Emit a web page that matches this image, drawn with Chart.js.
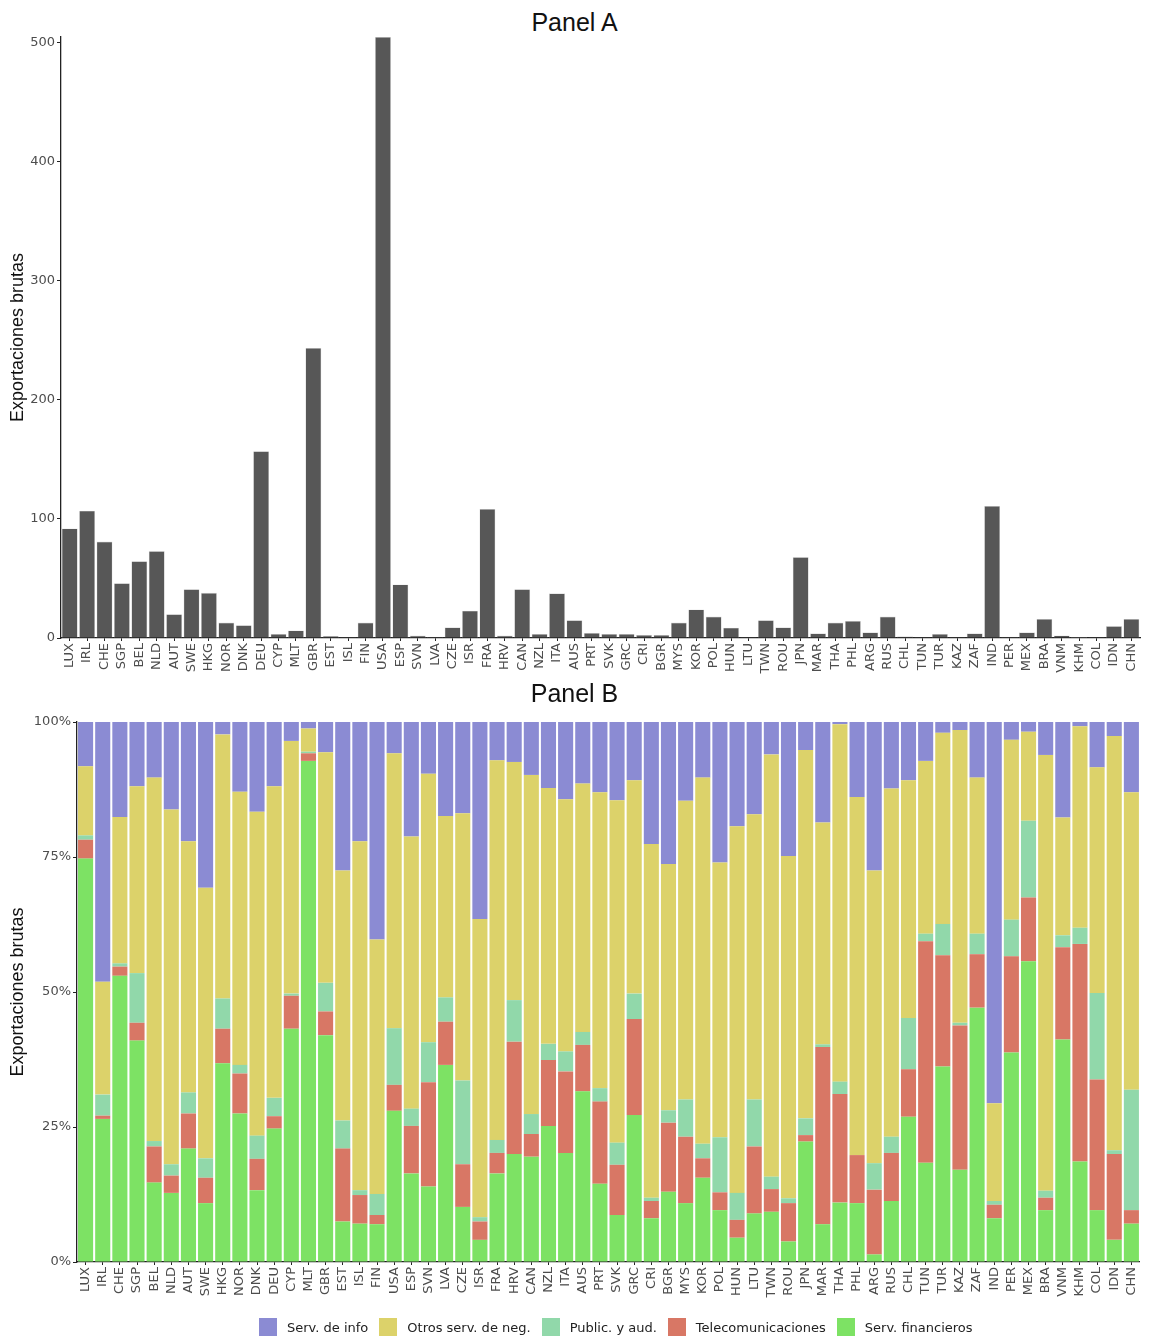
<!DOCTYPE html>
<html>
<head>
<meta charset="utf-8">
<script src="https://cdn.jsdelivr.net/npm/chart.js@4.4.0/dist/chart.umd.min.js"></script>
<style>
  body { margin: 0; background: #fff; }
  #wrap { position: relative; width: 1149px; height: 1338px; }
  .box { position: absolute; left: 0; width: 1149px; }
  .ttl { position: absolute; width: 1149px; text-align: center; font-family: "Liberation Sans", Arial, sans-serif; font-size: 25px; color: #111; }
  #legend { position: absolute; top: 1318px; left: 259px; display: flex; align-items: center; font-family: "DejaVu Sans", sans-serif; font-size: 13px; color: #222; white-space: nowrap; }
  #legend .item { display: flex; align-items: center; margin-right: 11px; }
  #legend .sw { width: 18px; height: 18px; margin-right: 10px; }
</style>
</head>
<body>
<div id="wrap">
  <div class="ttl" style="top:8px">Panel A</div>
  <div class="box" style="top:0;height:680px"><canvas id="chartA" width="1149" height="680"></canvas></div>
  <div class="ttl" style="top:679px">Panel B</div>
  <div class="box" style="top:680px;height:658px"><canvas id="chartB" width="1149" height="658"></canvas></div>
  <div id="legend"></div>
</div>
<script>
const countries = ['LUX','IRL','CHE','SGP','BEL','NLD','AUT','SWE','HKG','NOR','DNK','DEU','CYP','MLT','GBR','EST','ISL','FIN','USA','ESP','SVN','LVA','CZE','ISR','FRA','HRV','CAN','NZL','ITA','AUS','PRT','SVK','GRC','CRI','BGR','MYS','KOR','POL','HUN','LTU','TWN','ROU','JPN','MAR','THA','PHL','ARG','RUS','CHL','TUN','TUR','KAZ','ZAF','IND','PER','MEX','BRA','VNM','KHM','COL','IDN','CHN'];

// Panel A: gross exports
const grossExports = [92,107,81,46,64.5,73,20,41,38,13,10.7,157,3.4,6.4,243.7,1.7,0.6,13,505,45,2,1.1,9,23,108.4,2,41,3.4,37.5,15,4.2,3.4,3.4,2.5,2.5,13,24,18,8.7,0.6,15,9,68,3.9,13,14.3,4.8,18,1.4,0.6,3.4,0.6,3.9,111,1.1,4.8,16,2.2,0.1,0.6,10,16];
const exportTicks = [0,100,200,300,400,500];

// Panel B: shares by service type (%)
const financieros = [74.7,26.5,53.0,41.0,14.7,12.8,21.0,10.9,36.8,27.5,13.3,24.7,43.2,92.8,42.0,7.5,7.1,7.0,28.0,16.4,14.0,36.5,10.2,4.1,16.4,20.0,19.5,25.2,20.2,31.6,14.5,8.7,27.2,8.1,13.0,10.9,15.6,9.6,4.5,9.0,9.3,3.8,22.3,7.0,11.0,10.9,1.4,11.3,26.9,18.4,36.2,17.1,47.1,8.1,38.8,55.7,9.6,41.2,18.6,9.6,4.1,7.1];
const telecom = [3.5,0.6,1.7,3.3,6.7,3.2,6.5,4.7,6.4,7.4,5.8,2.3,6.1,1.4,4.4,13.5,5.3,1.7,4.8,8.8,19.3,8.0,7.9,3.4,3.8,20.8,4.2,12.2,15.1,8.6,15.2,9.3,17.8,3.2,12.8,12.3,3.6,3.3,3.3,12.4,4.2,7.1,1.2,32.8,20.1,8.9,12.0,8.9,8.8,41.0,20.6,26.7,9.9,2.5,17.8,11.8,2.3,17.1,40.3,24.2,15.9,2.5];
const publicidad = [0.8,3.9,0.6,9.2,1.0,2.1,3.9,3.6,5.6,1.6,4.3,3.4,0.4,0.3,5.3,5.2,0.9,3.9,10.5,3.2,7.4,4.5,15.5,0.8,2.4,7.7,3.7,3.0,3.7,2.4,2.5,4.1,4.7,0.6,2.3,6.9,2.7,10.2,5.0,8.7,2.3,0.9,3.1,0.5,2.3,0,4.9,3.0,9.5,1.4,5.8,0.5,3.8,0.7,6.8,14.2,1.3,2.2,3.0,16.0,0.7,22.3];
const otrosNeg = [12.8,20.9,27.1,34.6,67.3,65.7,46.5,50.1,48.9,50.6,60.0,57.7,46.8,4.3,42.7,46.3,64.6,47.1,50.9,50.4,49.7,33.6,49.5,55.2,70.3,44.1,62.8,47.4,46.7,46.0,54.8,63.4,39.5,65.5,45.6,55.3,67.8,50.9,67.9,52.8,78.2,63.4,68.2,41.1,66.2,66.3,54.2,64.5,44.0,32.0,35.4,54.2,28.9,18.1,33.3,16.5,80.7,21.8,37.3,41.8,76.7,55.1];
const servInfo = [8.2,48.1,17.6,11.9,10.3,16.2,22.1,30.7,2.3,12.9,16.6,11.9,3.5,1.2,5.6,27.5,22.1,40.3,5.8,21.2,9.6,17.4,16.9,36.5,7.1,7.4,9.8,12.2,14.3,11.4,13.0,14.5,10.8,22.6,26.3,14.6,10.3,26.0,19.3,17.1,6.0,24.8,5.2,18.6,0.4,13.9,27.5,12.3,10.8,7.2,2.0,1.5,10.3,70.6,3.3,1.8,6.1,17.7,0.8,8.4,2.6,13.0];
const shareTicks = [0,25,50,75,100];

const tickFont = { family: 'DejaVu Sans', size: 13 };
const axisColor = '#222';
const labelColor = '#4d4d4d';

function axisTitle(text) {
  return { display: true, text: text, color: '#111', font: { family: 'Liberation Sans', size: 18 }, padding: { top: 7, bottom: 0 } };
}

function xAxis(height) {
  return {
    type: 'category',
    offset: true,
    afterFit: s => { s.height = height; },
    grid: { display: true, drawOnChartArea: false, drawTicks: true, tickLength: 3, color: axisColor, offset: false },
    border: { display: true, color: axisColor, width: 1.3 },
    ticks: { color: labelColor, font: tickFont, maxRotation: 90, minRotation: 90, autoSkip: false, padding: 2 }
  };
}

new Chart(document.getElementById('chartA'), {
  type: 'bar',
  data: {
    labels: countries,
    datasets: [{
      label: 'Exportaciones brutas',
      data: grossExports,
      backgroundColor: '#575757',
      borderColor: '#dcdcdc',
      borderWidth: 0.6,
      barPercentage: 0.92,
      categoryPercentage: 1.0
    }]
  },
  options: {
    responsive: false,
    animation: false,
    layout: { padding: { top: 37, right: 2, left: 0, bottom: 0 } },
    plugins: { legend: { display: false }, tooltip: { enabled: false } },
    scales: {
      x: xAxis(42),
      y: {
        min: 0, max: 505,
        afterFit: s => { s.width = 61; },
        afterBuildTicks: s => { s.ticks = exportTicks.map(v => ({ value: v })); },
        title: axisTitle('Exportaciones brutas'),
        grid: { display: true, drawOnChartArea: false, drawTicks: true, tickLength: 4, color: axisColor },
        border: { display: true, color: axisColor, width: 1.3 },
        ticks: { color: labelColor, font: tickFont, padding: 2 }
      }
    }
  }
});

const seriesB = [
  { label: 'Serv. financieros', data: financieros, color: '#7de264' },
  { label: 'Telecomunicaciones', data: telecom, color: '#d87765' },
  { label: 'Public. y aud.', data: publicidad, color: '#91d8aa' },
  { label: 'Otros serv. de neg.', data: otrosNeg, color: '#dcd26a' },
  { label: 'Serv. de info', data: servInfo, color: '#8b8bd3' }
];

new Chart(document.getElementById('chartB'), {
  type: 'bar',
  data: {
    labels: countries,
    datasets: seriesB.map(s => ({
      label: s.label,
      data: s.data,
      backgroundColor: s.color,
      borderWidth: 0,
      barPercentage: 0.88,
      categoryPercentage: 1.0
    }))
  },
  options: {
    responsive: false,
    animation: false,
    layout: { padding: { top: 42, right: 2, left: 0, bottom: 38 } },
    plugins: { legend: { display: false }, tooltip: { enabled: false } },
    scales: {
      x: Object.assign(xAxis(38), { stacked: true }),
      y: {
        stacked: true,
        min: 0, max: 100,
        afterFit: s => { s.width = 77; },
        afterBuildTicks: s => { s.ticks = shareTicks.map(v => ({ value: v })); },
        title: axisTitle('Exportaciones brutas'),
        grid: { display: true, drawOnChartArea: false, drawTicks: true, tickLength: 4, color: axisColor },
        border: { display: true, color: axisColor, width: 1.3 },
        ticks: { color: labelColor, font: tickFont, padding: 2, callback: v => v + '%' }
      }
    }
  }
});

// legend, top series first
const legend = document.getElementById('legend');
seriesB.slice().reverse().forEach(s => {
  const item = document.createElement('div');
  item.className = 'item';
  const sw = document.createElement('span');
  sw.className = 'sw';
  sw.style.background = s.color;
  const txt = document.createElement('span');
  txt.textContent = s.label;
  item.appendChild(sw);
  item.appendChild(txt);
  legend.appendChild(item);
});
</script>
</body>
</html>
